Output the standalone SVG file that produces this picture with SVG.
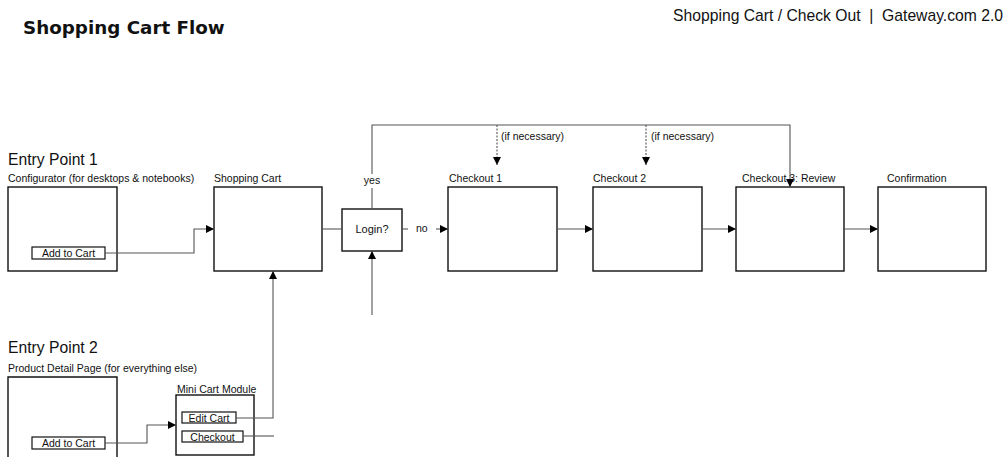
<svg xmlns="http://www.w3.org/2000/svg" width="1008" height="457" viewBox="0 0 1008 457">
<style>
text{font-family:"Liberation Sans",Arial,sans-serif;fill:#111;}
.title{font-family:"DejaVu Sans",Verdana,sans-serif;font-weight:bold;font-size:18.3px;}
.hdr{font-size:15.7px;}
.lbl{font-size:10.5px;}
.box{fill:#fff;stroke:#111;stroke-width:1.4;}
.btn{fill:#fff;stroke:#111;stroke-width:1.2;}
.ln{fill:none;stroke:#555;stroke-width:1.1;}
.dash{fill:none;stroke:#555;stroke-width:1.1;stroke-dasharray:2,1.5;}
</style>
<defs>
<marker id="ah" viewBox="0 0 10 10" refX="10" refY="5" markerWidth="9" markerHeight="8" markerUnits="userSpaceOnUse" orient="auto">
<path d="M0,0 L10,5 L0,10 z" fill="#000"/>
</marker>
</defs>
<text class="title" x="23" y="34">Shopping Cart Flow</text>
<text class="hdr" x="1003" y="21" text-anchor="end" xml:space="preserve">Shopping Cart / Check Out  |  Gateway.com 2.0</text>

<g id="entry1">
<text class="hdr" x="8" y="165">Entry Point 1</text>
<text class="lbl" x="8" y="182">Configurator (for desktops &amp; notebooks)</text>
<rect class="box" x="8" y="187" width="109" height="84"/>
<rect class="btn" x="32" y="247" width="73" height="12"/>
<text class="lbl" x="68.5" y="257" text-anchor="middle">Add to Cart</text>
</g>

<g id="cart">
<text class="lbl" x="214" y="182">Shopping Cart</text>
<rect class="box" x="214" y="187" width="108" height="84"/>
</g>

<g id="login">
<rect class="box" x="342" y="209" width="60" height="42"/>
<text class="lbl" x="372" y="233" text-anchor="middle" style="font-size:11px">Login?</text>
</g>

<g id="checkout1">
<text class="lbl" x="449" y="182">Checkout 1</text>
<rect class="box" x="448" y="187" width="109" height="84"/>
</g>
<g id="checkout2">
<text class="lbl" x="593" y="182">Checkout 2</text>
<rect class="box" x="593" y="187" width="109" height="84"/>
</g>
<g id="checkout3">
<text class="lbl" x="742" y="182">Checkout 3: Review</text>
<rect class="box" x="736" y="187" width="108" height="84"/>
</g>
<g id="confirmation">
<text class="lbl" x="887" y="182">Confirmation</text>
<rect class="box" x="878" y="187" width="108" height="84"/>
</g>

<g id="entry2">
<text class="hdr" x="8" y="353">Entry Point 2</text>
<text class="lbl" x="8" y="372">Product Detail Page (for everything else)</text>
<path class="box" d="M8,462 V377 H117 V462"/>
<rect class="btn" x="32" y="437" width="73" height="12"/>
<text class="lbl" x="68.5" y="447" text-anchor="middle">Add to Cart</text>
</g>

<g id="minicart">
<text class="lbl" x="177" y="393">Mini Cart Module</text>
<rect class="box" x="176" y="395" width="78" height="60"/>
<rect class="btn" x="182" y="412" width="54" height="11"/>
<text class="lbl" x="209" y="421.5" text-anchor="middle">Edit Cart</text>
<rect class="btn" x="182" y="431" width="61" height="11"/>
<text class="lbl" x="212.5" y="440.5" text-anchor="middle">Checkout</text>
</g>

<g id="connectors">
<path class="ln" d="M105,253 H194 V229 H214" marker-end="url(#ah)"/>
<path class="ln" d="M322,229 H342"/>
<path class="ln" d="M372,209 V188"/>
<text class="lbl" x="372" y="184" text-anchor="middle">yes</text>
<path class="ln" d="M372,174 V125 H790 V187" marker-end="url(#ah)"/>
<path class="ln" d="M402,229 H408"/>
<text class="lbl" x="416" y="232">no</text>
<path class="ln" d="M436,229 H448" marker-end="url(#ah)"/>
<path class="ln" d="M557,229 H593" marker-end="url(#ah)"/>
<path class="ln" d="M702,229 H736" marker-end="url(#ah)"/>
<path class="ln" d="M844,229 H878" marker-end="url(#ah)"/>
<path class="dash" d="M497,125 V165" marker-end="url(#ah)"/>
<text class="lbl" x="501" y="140">(if necessary)</text>
<path class="dash" d="M646,125 V165" marker-end="url(#ah)"/>
<text class="lbl" x="651" y="140">(if necessary)</text>
<path class="ln" d="M372,315 V251" marker-end="url(#ah)"/>
<path class="ln" d="M105,443 H147 V425 H176" marker-end="url(#ah)"/>
<path class="ln" d="M236,418 H273 V271" marker-end="url(#ah)"/>
<path class="ln" d="M243,436 H274"/>
</g>
</svg>
